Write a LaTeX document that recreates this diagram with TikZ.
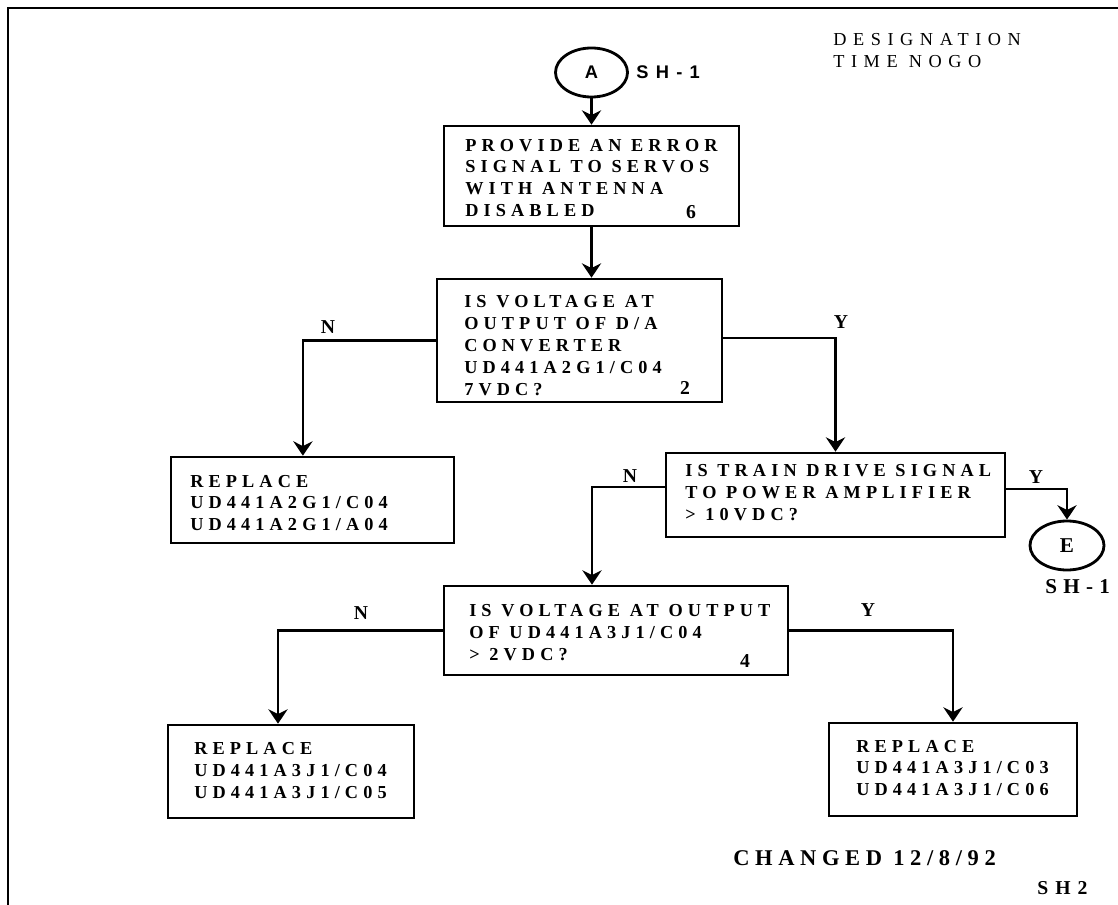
\documentclass[tikz,border=0pt]{standalone}
\usepackage{fontspec}
\setmainfont{Liberation Serif}
\setsansfont{Liberation Sans}
\newfontfamily\boxfont{Liberation Serif}[LetterSpace=28]
\newfontfamily\headfont{Liberation Serif}[LetterSpace=36]
\newfontfamily\footfont{Liberation Serif}[LetterSpace=25]
\newfontfamily\tagfont{Liberation Serif}[LetterSpace=30]
\newfontfamily\sheetfont{Liberation Sans}[LetterSpace=40]
\usetikzlibrary{shapes.geometric,arrows.meta,positioning}

\tikzset{
  flowbox/.style={draw, line width=1.8pt, inner sep=0pt},
  flowtxt/.style={anchor=west, align=left, inner sep=0pt, font=\boxfont\bfseries\fontsize{13}{15.6}\selectfont},
  offpage/.style={draw, ellipse, line width=2pt, inner sep=0pt, minimum width=1.8cm, minimum height=1.225cm},
  answer/.style={inner sep=0pt, font=\bfseries\fontsize{14}{14}\selectfont},
  stepno/.style={inner sep=0pt, font=\bfseries\fontsize{14}{14}\selectfont},
  flowarr/.style={line width=1.9pt, -{Stealth[length=0.36cm, width=0.48cm, inset=0.12cm]}},
}

\begin{document}
\begin{tikzpicture}[x=0.025cm, y=-0.025cm]
  \useasboundingbox (0,0) rectangle (1118,905);
  % sheet frame
  \draw[line width=1.4pt] (8,905) -- (8,8) -- (1118,8);

  % header
  \node[flowtxt, font=\headfont\fontsize{13}{15.6}\selectfont] (title) at (833,51) {DESIGNATION\\TIME NOGO};

  % entry from sheet 1
  \node[offpage, font=\sffamily\bfseries\fontsize{13}{13}\selectfont] (circA) at (591.5,72.5) {A};
  \node[anchor=west, inner sep=0pt, font=\sheetfont\bfseries\fontsize{13}{13}\selectfont] (shA) at (636,72.5) {SH-1};

  % step 6
  \node[flowbox, minimum width=7.375cm, minimum height=2.5cm] (box1) at (591.5,176) {};
  \node[flowtxt] (t1) at (465,178) {PROVIDE AN ERROR\\SIGNAL TO SERVOS\\WITH ANTENNA\\DISABLED};
  \node[stepno] (n6) at (691,212) {6};

  % step 2
  \node[flowbox, minimum width=7.125cm, minimum height=3.075cm] (box2) at (579.5,340.5) {};
  \node[flowtxt] (t2) at (464,345.5) {IS VOLTAGE AT\\OUTPUT OF D/A\\CONVERTER\\UD441A2G1/C04\\7VDC?};
  \node[stepno] (n2) at (685,388) {2};

  \node[flowbox, minimum width=7.075cm, minimum height=2.15cm] (rep1) at (312.5,500) {};
  \node[flowtxt] (t3) at (190,503) {REPLACE\\UD441A2G1/C04\\UD441A2G1/A04};

  \node[flowbox, minimum width=8.475cm, minimum height=2.1cm] (box3) at (835.5,495) {};
  \node[flowtxt] (t4) at (685,492.5) {IS TRAIN DRIVE SIGNAL\\TO POWER AMPLIFIER\\> 10VDC?};

  % exit to sheet 1
  \node[offpage, minimum width=1.85cm, font=\bfseries\fontsize{15}{15}\selectfont] (circE) at (1067,545.5) {E};
  \node[anchor=west, inner sep=0pt, font=\tagfont\bfseries\fontsize{15}{15}\selectfont] (shE) at (1045,587) {SH-1};

  % step 4
  \node[flowbox, minimum width=8.6cm, minimum height=2.225cm] (box4) at (616,630.5) {};
  \node[flowtxt] (t5) at (469,632.5) {IS VOLTAGE AT OUTPUT\\OF UD441A3J1/C04\\> 2VDC?};
  \node[stepno] (n4) at (745,661) {4};

  \node[flowbox, minimum width=6.15cm, minimum height=2.325cm] (rep2) at (291,771.5) {};
  \node[flowtxt] (t6) at (194,770.5) {REPLACE\\UD441A3J1/C04\\UD441A3J1/C05};
  \node[flowbox, minimum width=6.2cm, minimum height=2.325cm] (rep3) at (953,769.5) {};
  \node[flowtxt] (t7) at (856,768) {REPLACE\\UD441A3J1/C03\\UD441A3J1/C06};

  % footer
  \node[flowtxt, font=\footfont\bfseries\fontsize{16}{16}\selectfont] (chg) at (733,858) {CHANGED 12/8/92};
  \node[anchor=west, inner sep=0pt, font=\headfont\bfseries\fontsize{14}{14}\selectfont] (sh2) at (1037,888) {SH2};

  % answers
  \node[answer] (n2no)  at (328,327) {N};
  \node[answer] (n2yes) at (841,322) {Y};
  \node[answer] (n3no)  at (630,476) {N};
  \node[answer] (n3yes) at (1036,477) {Y};
  \node[answer] (n4no)  at (361,613) {N};
  \node[answer] (n4yes) at (868,610) {Y};

  % connectors
  \draw[flowarr] (circA) -- (box1);
  \draw[flowarr] (box1.south) -- (box1.south |- box2.north);
  \draw[flowarr] (box2.west) -| ([xshift=-0.24cm]rep1.north);
  \draw[flowarr] ([yshift=0.06cm]box2.east) -| (box3.north);
  \draw[flowarr] ([yshift=0.2cm]box3.west) -| ([xshift=-0.6cm]box4.north);
  \draw[flowarr] ([yshift=0.15cm]box3.east) -| (circE.north);
  \draw[flowarr] (box4.west) -| ([xshift=-0.325cm]rep2.north);
  \draw[flowarr] (box4.east) -| (rep3.north);
\end{tikzpicture}
\end{document}
